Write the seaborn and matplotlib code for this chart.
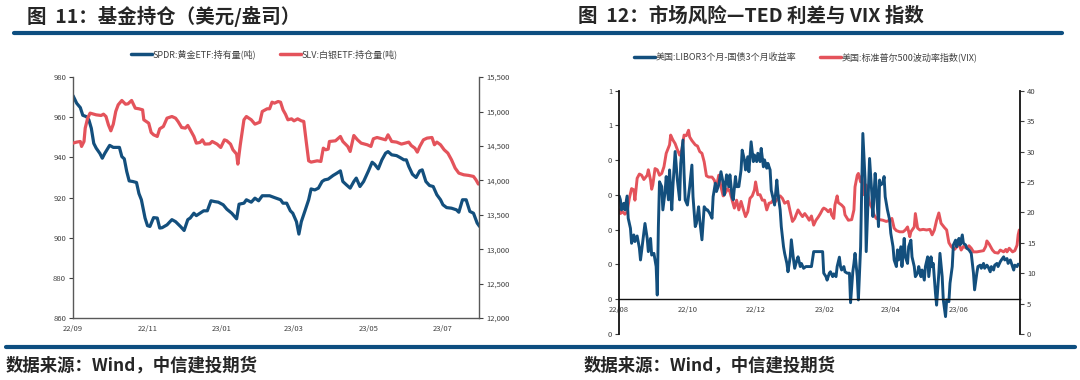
import pandas as pd
import numpy as np
import matplotlib.pyplot as plt
import matplotlib.dates as mdates
from matplotlib.lines import Line2D
from matplotlib.ticker import FixedLocator, FixedFormatter, StrMethodFormatter
import seaborn as sns

sns.set_theme(style="white")
plt.rcParams['font.family'] = ['Noto Sans CJK SC', 'DejaVu Sans']

BLUE = '#134f7d'
RED = '#e4535b'
RULE = '#0d4e80'

# ---- Fig 11: fund holdings, days counted from 2022-09-01 ----
spdr_day = [0, 3, 6, 8, 11, 13, 15, 17, 19, 22, 24, 26, 30, 33, 38, 40, 42, 44, 46, 49,
            52, 54, 56, 59, 61, 63, 66, 69, 71, 73, 77, 81, 84, 88, 91, 94, 96, 99, 101, 104,
            107, 110, 113, 116, 119, 123, 126, 130, 134, 136, 140, 142, 146, 149, 152, 155, 159, 161, 165, 170,
            172, 175, 178, 180, 183, 185, 187, 190, 193, 195, 198, 201, 204, 206, 209, 213, 216, 219, 221, 224,
            227, 230, 232, 235, 238, 242, 245, 247, 250, 253, 256, 258, 261, 265, 268, 271, 273, 275, 278, 281,
            284, 286, 289, 292, 295, 298, 301, 303, 306, 310, 314, 316, 319, 322, 325, 328, 331, 333]
spdr_ton = [970.8, 967, 964.8, 961, 960.3, 958.7, 954.5, 947, 944.6, 942, 939.6, 942, 946, 945, 945, 940.4, 939.3, 933, 928.3, 928,
            927.5, 922, 918.9, 909.8, 906, 905.6, 910, 909.8, 904.8, 905, 906.4, 909, 908, 905.6, 903.6, 909, 909.8, 912.2, 911, 912.2,
            913.4, 913.4, 918.4, 918, 917.7, 916.4, 914.2, 912.2, 909.4, 916.7, 917.2, 918.9, 917.7, 919.7, 918.4, 920.9, 920.9, 920.9, 920, 918.9,
            917.2, 917.2, 913.4, 912.2, 908, 901.8, 908, 913.4, 918.9, 924.3, 923.8, 924.7, 928, 928.8, 929.2, 931, 932.1, 933.3, 928, 926.3,
            924.7, 928, 929.7, 925.5, 928, 933.3, 937.6, 936.6, 934.3, 938.8, 942.1, 942.9, 941.3, 940.9, 939.9, 938.8, 938.8, 935.5, 931.6, 930,
            933.3, 933.8, 928, 926, 925.5, 921.4, 918.9, 916.4, 915, 914.7, 913.9, 912.7, 918.9, 918.9, 913.1, 912.2, 907.3, 905.6]

slv_day = [0, 3, 6, 7, 9, 10, 12, 14, 17, 19, 23, 25, 27, 29, 31, 33, 35, 37, 40, 43,
           45, 48, 51, 54, 57, 58, 62, 64, 66, 69, 71, 74, 77, 81, 84, 86, 89, 92, 94, 96,
           99, 101, 104, 106, 108, 112, 114, 118, 121, 124, 126, 129, 131, 134, 135, 137, 140, 142, 146, 149,
           153, 155, 159, 161, 163, 165, 168, 170, 172, 174, 176, 179, 181, 184, 187, 189, 191, 193, 195, 200,
           203, 205, 207, 209, 210, 215, 219, 221, 225, 227, 230, 233, 236, 241, 244, 246, 249, 253, 256, 258,
           261, 265, 269, 272, 275, 277, 280, 282, 284, 287, 290, 294, 296, 298, 301, 304, 307, 310, 313, 316,
           320, 324, 328, 330, 332]
slv_ton = [14541, 14556, 14565, 14493, 14565, 14759, 14904, 14977, 14962, 14952, 14943, 14962, 14928, 14807, 14720, 14817, 15001, 15098, 15161, 15107,
           15112, 15161, 15049, 15040, 15025, 14880, 14831, 14696, 14662, 14638, 14749, 14783, 14904, 14928, 14904, 14856, 14768, 14759, 14798, 14735,
           14638, 14541, 14551, 14589, 14527, 14531, 14565, 14527, 14478, 14589, 14575, 14527, 14444, 14381, 14236, 14517, 14880, 14928, 14880, 14817,
           14846, 15001, 15040, 15040, 15136, 15122, 15146, 15136, 15025, 14962, 14880, 14894, 14865, 14894, 14865, 14856, 14565, 14284, 14265, 14284,
           14275, 14468, 14444, 14454, 14565, 14575, 14638, 14565, 14493, 14420, 14652, 14589, 14541, 14517, 14493, 14604, 14623, 14604, 14589, 14662,
           14565, 14556, 14527, 14541, 14556, 14507, 14468, 14410, 14493, 14589, 14614, 14623, 14517, 14556, 14517, 14444, 14396, 14299, 14178, 14105,
           14081, 14072, 14057, 14009, 13946]

# ---- Fig 12: TED spread & VIX, days counted from 2022-08-01 ----
ted_day = [0, 1, 2, 4, 5, 7, 8, 10, 11, 13, 14, 16, 18, 19, 22, 23, 25, 26, 28, 29,
           31, 33, 34, 35, 36, 38, 39, 41, 42, 44, 45, 47, 48, 50, 52, 54, 55, 57, 58, 59,
           61, 63, 65, 66, 68, 69, 71, 72, 74, 76, 78, 79, 81, 83, 84, 86, 87, 89, 91, 93,
           94, 96, 98, 99, 101, 102, 104, 105, 107, 109, 110, 112, 113, 115, 116, 118, 120, 121, 123, 124,
           126, 127, 129, 130, 132, 133, 135, 136, 138, 139, 141, 142, 144, 145, 147, 148, 150, 151, 153, 154,
           156, 157, 159, 160, 162, 163, 165, 167, 169, 172, 174, 177, 180, 182, 183, 185, 186, 188, 189, 191,
           192, 194, 195, 197, 198, 199, 201, 202, 204, 206, 207, 209, 210, 211, 213, 214, 216, 217, 218, 220,
           221, 223, 224, 226, 227, 229, 230, 232, 233, 234, 236, 237, 238, 240, 242, 243, 245, 246, 248, 249,
           250, 252, 253, 255, 256, 258, 259, 261, 262, 264, 265, 267, 268, 270, 271, 273, 274, 276, 277, 279,
           280, 281, 283, 284, 286, 287, 289, 290, 292, 293, 295, 296, 298, 299, 301, 302, 304, 305, 307, 308,
           310, 311, 313, 314, 315, 317, 318, 320, 321, 323, 324, 326, 327, 329, 330, 332, 333, 335, 336, 338,
           339, 341, 342, 344, 345, 347, 348, 350, 351, 353, 354, 356, 357]
ted_pct = [0.297, 0.286, 0.257, 0.276, 0.257, 0.297, 0.233, 0.204, 0.161, 0.185, 0.166, 0.182, 0.147, 0.113, 0.190, 0.218, 0.175, 0.137, 0.175, 0.127,
           0.132, 0.094, 0.012, 0.209, 0.338, 0.324, 0.257, 0.310, 0.353, 0.286, 0.372, 0.257, 0.324, 0.425, 0.343, 0.286, 0.391, 0.458, 0.362, 0.286,
           0.271, 0.324, 0.386, 0.295, 0.209, 0.218, 0.266, 0.228, 0.171, 0.266, 0.257, 0.257, 0.247, 0.233, 0.295, 0.334, 0.310, 0.329, 0.367, 0.334,
           0.300, 0.358, 0.324, 0.358, 0.295, 0.286, 0.353, 0.324, 0.324, 0.372, 0.429, 0.401, 0.372, 0.410, 0.367, 0.453, 0.396, 0.415, 0.396, 0.420,
           0.396, 0.434, 0.381, 0.401, 0.377, 0.391, 0.372, 0.314, 0.286, 0.271, 0.343, 0.305, 0.257, 0.209, 0.151, 0.132, 0.103, 0.079, 0.122, 0.171,
           0.113, 0.089, 0.113, 0.122, 0.094, 0.103, 0.089, 0.094, 0.094, 0.094, 0.137, 0.137, 0.137, 0.137, 0.075, 0.065, 0.055, 0.075, 0.079, 0.065,
           0.073, 0.065, 0.094, 0.121, 0.094, 0.084, 0.094, 0.079, 0.075, 0.075, -0.010, 0.079, 0.103, 0.132, 0.065, -0.002, 0.151, 0.324, 0.477, 0.343,
           0.137, 0.314, 0.405, 0.305, 0.238, 0.362, 0.324, 0.209, 0.343, 0.329, 0.334, 0.353, 0.295, 0.257, 0.228, 0.190, 0.151, 0.113, 0.094, 0.142,
           0.113, 0.151, 0.094, 0.175, 0.122, 0.103, 0.151, 0.170, 0.122, 0.094, 0.065, 0.075, 0.094, 0.065, 0.084, 0.055, 0.094, 0.122, 0.065, 0.122,
           0.094, 0.103, 0.017, -0.017, 0.075, 0.132, 0.065, -0.002, -0.050, -0.002, -0.007, 0.046, 0.094, 0.156, 0.170, 0.151, 0.175, 0.156, 0.185, 0.161,
           0.156, 0.147, 0.142, 0.137, 0.132, 0.075, 0.027, 0.075, 0.094, 0.098, 0.089, 0.103, 0.089, 0.098, 0.094, 0.079, 0.094, 0.084, 0.098, 0.103,
           0.094, 0.108, 0.113, 0.122, 0.113, 0.117, 0.103, 0.113, 0.103, 0.084, 0.098, 0.094, 0.101]

vix_day = [0, 1, 3, 5, 7, 9, 11, 13, 14, 16, 18, 20, 22, 25, 26, 28, 29, 30, 32, 34,
           36, 38, 40, 42, 45, 46, 48, 50, 52, 54, 56, 58, 60, 62, 63, 65, 68, 70, 72, 74,
           76, 78, 80, 83, 85, 87, 89, 91, 93, 95, 97, 99, 101, 103, 105, 107, 109, 111, 113, 115,
           117, 119, 121, 122, 124, 126, 128, 130, 132, 134, 136, 138, 140, 142, 144, 146, 148, 151, 153, 155,
           157, 160, 162, 164, 166, 168, 170, 172, 174, 176, 178, 180, 182, 183, 185, 187, 189, 190, 192, 193,
           195, 196, 199, 201, 202, 205, 208, 210, 211, 213, 214, 216, 217, 219, 221, 222, 224, 226, 228, 230,
           233, 236, 239, 242, 244, 246, 248, 251, 254, 256, 258, 260, 261, 264, 265, 267, 269, 272, 275, 278,
           280, 282, 284, 286, 288, 291, 293, 295, 297, 300, 302, 304, 306, 308, 311, 313, 315, 317, 320, 323,
           326, 328, 329, 331, 334, 336, 339, 341, 344, 346, 347, 349, 352, 354, 356, 357, 358]
vix_val = [20.4, 19.8, 20.1, 19.7, 20.1, 22.3, 23.9, 23.7, 22.0, 25.6, 26.3, 26.1, 25.4, 26.1, 27.0, 25.3, 23.8, 24.5, 27.2, 27.0,
           26.1, 26.4, 27.5, 29.7, 31.1, 32.7, 31.9, 31.3, 30.3, 29.4, 30.3, 32.7, 32.6, 33.5, 32.4, 31.8, 31.1, 30.9, 30.0, 29.7,
           28.3, 26.0, 25.8, 25.8, 25.3, 24.2, 26.1, 24.2, 22.7, 23.2, 23.9, 23.4, 22.0, 20.7, 22.0, 20.4, 21.8, 20.5, 19.3, 20.1,
           22.3, 22.7, 23.7, 25.0, 22.9, 22.9, 22.0, 22.0, 20.4, 21.5, 21.6, 22.1, 21.8, 22.3, 22.7, 22.3, 21.5, 21.8, 20.1, 18.5,
           19.0, 20.4, 19.8, 19.3, 19.8, 19.3, 18.7, 19.4, 17.9, 18.7, 19.2, 19.8, 20.5, 20.7, 20.5, 20.1, 20.5, 19.6, 19.0, 21.2,
           22.7, 21.6, 21.2, 20.8, 19.6, 18.7, 18.8, 20.4, 24.2, 26.1, 26.4, 25.0, 25.9, 22.9, 24.5, 23.4, 21.5, 20.8, 19.6, 19.0,
           18.8, 18.7, 18.5, 18.7, 19.0, 17.4, 17.0, 16.8, 16.8, 17.1, 17.6, 16.0, 16.8, 17.6, 19.8, 17.4, 17.1, 17.2, 17.1, 17.2,
           16.3, 17.1, 18.7, 19.9, 18.2, 17.5, 17.1, 15.0, 14.4, 13.9, 14.3, 14.8, 13.8, 14.4, 14.1, 14.5, 14.1, 13.5, 13.5, 13.6,
           13.7, 14.4, 15.3, 14.8, 13.8, 13.4, 13.3, 13.8, 13.5, 13.9, 13.5, 14.1, 13.5, 13.7, 14.6, 16.3, 17.1]

ted_ticks = [-0.1, 0.0, 0.1, 0.2, 0.3, 0.4, 0.5, 0.6]
ted_ticklabels = ['0', '0', '0', '0', '0', '0', '1', '1']


def to_dates(start, days):
    return pd.Timestamp(start) + pd.to_timedelta(days, unit='D')


spdr = pd.DataFrame({'date': to_dates('2022-09-01', spdr_day), 'v': spdr_ton})
slv = pd.DataFrame({'date': to_dates('2022-09-01', slv_day), 'v': slv_ton})
ted = pd.DataFrame({'date': to_dates('2022-08-01', ted_day), 'v': ted_pct})
vix = pd.DataFrame({'date': to_dates('2022-08-01', vix_day), 'v': vix_val})

fig = plt.figure(figsize=(10.8, 3.8), dpi=100)

# rules and headings
fig.add_artist(Line2D([0.013, 0.983], [0.913, 0.913], color=RULE, lw=3.0))
fig.add_artist(Line2D([0.006, 0.995], [0.087, 0.087], color=RULE, lw=3.0))
fig.text(0.025, 0.957, '图  11：基金持仓（美元/盎司）', fontsize=14, fontweight='bold', va='center')
fig.text(0.535, 0.957, '图  12：市场风险—TED 利差与 VIX 指数', fontsize=14, fontweight='bold', va='center')
fig.text(0.005, 0.037, '数据来源：Wind，中信建投期货', fontsize=12.5, fontweight='bold', style='italic', va='center')
fig.text(0.540, 0.037, '数据来源：Wind，中信建投期货', fontsize=12.5, fontweight='bold', style='italic', va='center')


def style_ax(a, col):
    a.set_xlabel('')
    a.set_ylabel('')
    for s in a.spines.values():
        s.set_color(col)
        s.set_linewidth(1.0)
    a.tick_params(axis='both', labelsize=5.5, colors='#404040', length=3, width=0.8, pad=2)


# ---- left chart ----
ax1 = fig.add_axes([0.0676, 0.1632, 0.3759, 0.6338])
ax1b = ax1.twinx()
sns.lineplot(data=spdr, x='date', y='v', ax=ax1, color=BLUE, lw=2.3)
sns.lineplot(data=slv, x='date', y='v', ax=ax1b, color=RED, lw=2.3)
ax1.set_ylim(860, 980)
ax1.set_yticks(np.arange(860, 981, 20))
ax1b.set_ylim(12000, 15500)
ax1b.set_yticks(np.arange(12000, 15501, 500))
ax1b.yaxis.set_major_formatter(StrMethodFormatter('{x:,.0f}'))
ax1.set_xlim(pd.Timestamp('2022-09-01'), pd.Timestamp('2022-09-01') + pd.Timedelta(days=332.5))
ax1.xaxis.set_major_locator(mdates.MonthLocator(bymonth=[1, 3, 5, 7, 9, 11]))
ax1.xaxis.set_major_formatter(mdates.DateFormatter('%y/%m'))
for a in (ax1, ax1b):
    style_ax(a, '#595959')
    a.spines['top'].set_visible(False)
ax1.spines['right'].set_visible(False)
ax1b.spines['left'].set_visible(False)
ax1b.spines['bottom'].set_visible(False)

fig.legend(handles=[Line2D([], [], color=BLUE, lw=2.5), Line2D([], [], color=RED, lw=2.5)],
           labels=['SPDR:黄金ETF:持有量(吨)', 'SLV:白银ETF:持仓量(吨)'],
           loc='center', bbox_to_anchor=(0.245, 0.858), ncol=2, frameon=False, fontsize=6.5,
           handlelength=2.3, handletextpad=0.1, columnspacing=2.6, labelcolor='#404040')

# ---- right chart ----
ax2 = fig.add_axes([0.5734, 0.1211, 0.3710, 0.6402])
ax2b = ax2.twinx()
sns.lineplot(data=ted, x='date', y='v', ax=ax2, color=BLUE, lw=2.1)
sns.lineplot(data=vix, x='date', y='v', ax=ax2b, color=RED, lw=2.1)
ax2.set_zorder(ax2b.get_zorder() + 1)
ax2.patch.set_visible(False)
ax2.set_ylim(-0.1, 0.6)
ax2.yaxis.set_major_locator(FixedLocator(ted_ticks))
ax2.yaxis.set_major_formatter(FixedFormatter(ted_ticklabels))
ax2b.set_ylim(0, 40)
ax2b.set_yticks(np.arange(0, 41, 5))
ax2.set_xlim(pd.Timestamp('2022-08-01'), pd.Timestamp('2022-08-01') + pd.Timedelta(days=358.6))
ax2.xaxis.set_major_locator(mdates.MonthLocator(bymonth=[2, 4, 6, 8, 10, 12]))
ax2.xaxis.set_major_formatter(mdates.DateFormatter('%y/%m'))
for a in (ax2, ax2b):
    style_ax(a, '#111111')
    a.spines['top'].set_visible(False)
    a.spines['left'].set_linewidth(1.3)
    a.spines['right'].set_linewidth(1.3)
ax2.spines['right'].set_visible(False)
ax2.spines['bottom'].set_position(('data', 0))
ax2b.spines['left'].set_visible(False)
ax2b.spines['bottom'].set_visible(False)

fig.legend(handles=[Line2D([], [], color=BLUE, lw=2.5), Line2D([], [], color=RED, lw=2.5)],
           labels=['美国:LIBOR3个月-国债3个月收益率', '美国:标准普尔500波动率指数(VIX)'],
           loc='center', bbox_to_anchor=(0.746, 0.850), ncol=2, frameon=False, fontsize=6.5,
           handlelength=2.3, handletextpad=0.1, columnspacing=2.6, labelcolor='#404040')

fig.savefig('out.png', dpi=100)
